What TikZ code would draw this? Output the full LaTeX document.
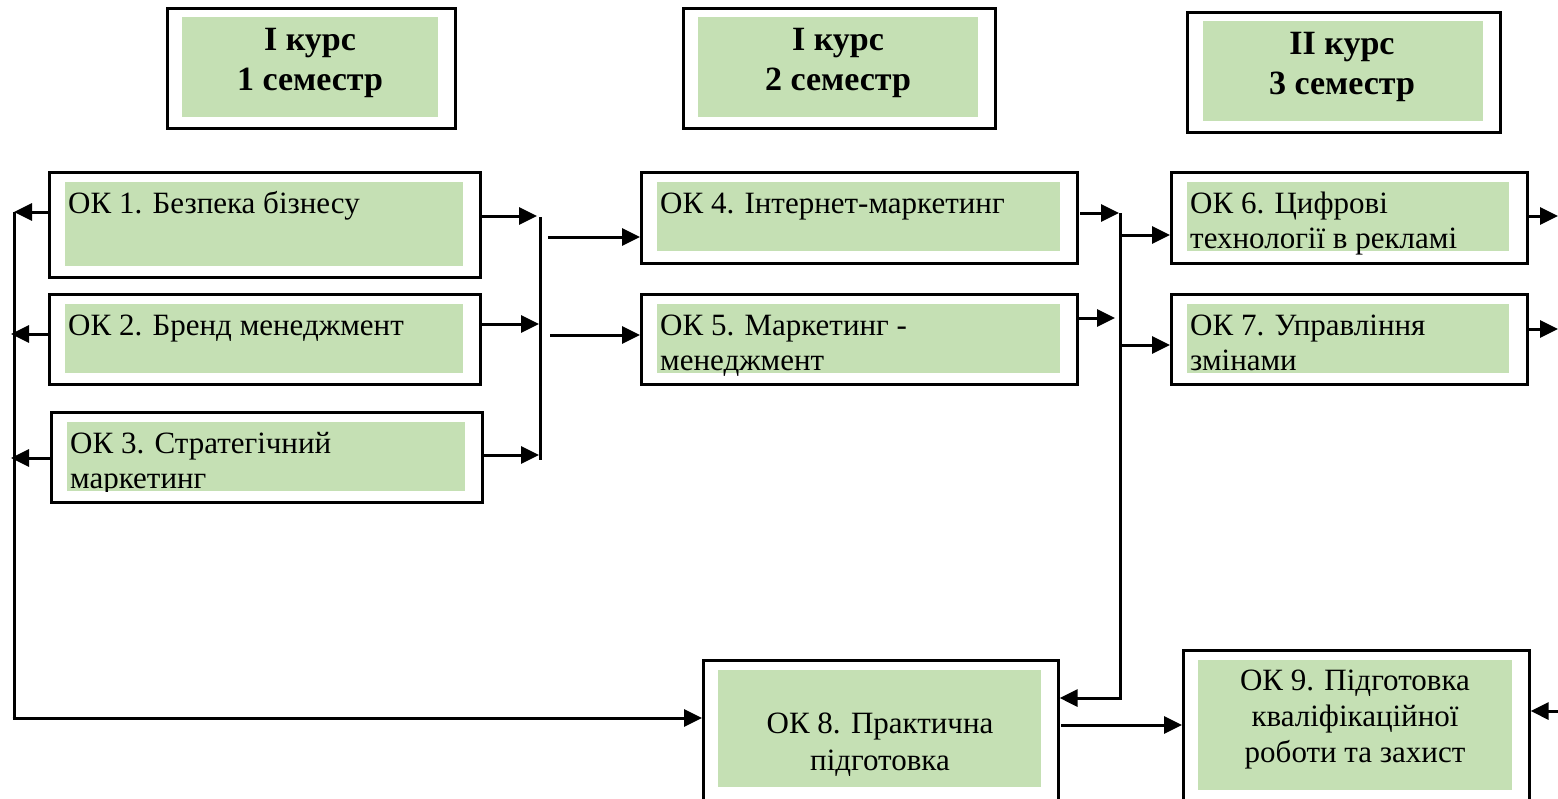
\documentclass[tikz,border=0pt]{standalone}
\usepackage{fontspec}
\setmainfont{Liberation Serif}
\usetikzlibrary{arrows.meta,calc}
\definecolor{cellgreen}{RGB}{197,224,180}
\tikzset{
  outerbox/.style={draw=black, line width=2.6pt, fill=white, inner sep=0pt, anchor=north west},
  greenbox/.style={fill=cellgreen},
  txt/.style={inner sep=0pt, anchor=base west, align=left, font=\fontsize{31}{35}\selectfont},
  ctxt/.style={inner sep=0pt, anchor=base, align=center, font=\fontsize{31}{37}\selectfont},
  htxt/.style={inner sep=0pt, anchor=base, align=center, font=\fontsize{34}{40}\selectfont\bfseries},
  arr/.style={line width=3pt, -{Triangle[length=18pt,width=17pt]}},
  ln/.style={line width=3pt}
}
\begin{document}
\begin{tikzpicture}[x=1pt,y=-1pt]
\useasboundingbox (0,0) rectangle (1558,798);

% headers
\node[outerbox, minimum width=288, minimum height=120] (h1) at (166,7) {};
\fill[greenbox] (182,17) rectangle (438,117);
\node[htxt] (h1t) at (310,90) {I курс\\1 семестр};

\node[outerbox, minimum width=312, minimum height=120] (h2) at (682,7) {};
\fill[greenbox] (698,17) rectangle (978,117);
\node[htxt] (h2t) at (838,90) {I курс\\2 семестр};

\node[outerbox, minimum width=313, minimum height=120] (h3) at (1186,11) {};
\fill[greenbox] (1203,21) rectangle (1483,121);
\node[htxt] (h3t) at (1342,94) {II курс\\3 семестр};

% course boxes
\node[outerbox, minimum width=431, minimum height=105] (ok1) at (48,171) {};
\fill[greenbox] (65,182) rectangle (463,266);
\node[txt] (ok1t) at (68,213) {ОК 1. Безпека бізнесу};

\node[outerbox, minimum width=431, minimum height=90] (ok2) at (48,293) {};
\fill[greenbox] (65,304) rectangle (463,373);
\node[txt] (ok2t) at (68,335) {ОК 2. Бренд менеджмент};

\node[outerbox, minimum width=431, minimum height=90] (ok3) at (50,411) {};
\fill[greenbox] (67,422) rectangle (465,491);
\begin{scope}
\clip (67,422) rectangle (465,491);
\node[txt] (ok3t) at (70,488) {ОК 3. Стратегічний\\маркетинг};
\end{scope}

\node[outerbox, minimum width=436, minimum height=91] (ok4) at (640,171) {};
\fill[greenbox] (657,182) rectangle (1060,251);
\node[txt] (ok4t) at (660,213) {ОК 4. Інтернет-маркетинг};

\node[outerbox, minimum width=436, minimum height=90] (ok5) at (640,293) {};
\fill[greenbox] (657,304) rectangle (1060,373);
\node[txt] (ok5t) at (660,370) {ОК 5. Маркетинг -\\менеджмент};

\node[outerbox, minimum width=356, minimum height=91] (ok6) at (1170,171) {};
\fill[greenbox] (1187,182) rectangle (1509,251);
\node[txt] (ok6t) at (1190,248) {ОК 6. Цифрові\\технології в рекламі};

\node[outerbox, minimum width=356, minimum height=90] (ok7) at (1170,293) {};
\fill[greenbox] (1187,304) rectangle (1509,373);
\node[txt] (ok7t) at (1190,370) {ОК 7. Управління\\змінами};

\node[outerbox, minimum width=355, minimum height=140] (ok8) at (702,659) {};
\fill[greenbox] (718,670) rectangle (1041,787);
\node[ctxt] (ok8t) at (880,770) {ОК 8. Практична\\підготовка};

\node[outerbox, minimum width=346, minimum height=150] (ok9) at (1182,649) {};
\fill[greenbox] (1198,660) rectangle (1512,790);
\node[ctxt, font=\fontsize{31}{36}\selectfont] (ok9t) at (1355,762) {ОК 9. Підготовка\\кваліфікаційної\\роботи та захист};

% coordinates for buses and free ends
\coordinate (busL) at (14,212);
\coordinate (busM) at (540,217);
\coordinate (busR) at (1120,213);
\coordinate (edgeR) at (1558,0);

% left bus
\draw[arr] (ok1.west |- 0,212) -- (busL);
\draw[arr] (ok2.west |- 0,334) -- (11,334);
\draw[arr] (ok3.west |- 0,458) -- (11,458);
\draw[ln] (busL) -- (14,719.5);
\draw[arr] (12.5,718) -- (ok8.west |- 0,718);

% middle bus
\draw[arr] (ok1.east |- 0,216) -- (537,216);
\draw[arr] (ok2.east |- 0,324) -- (539,324);
\draw[arr] (ok3.east |- 0,455) -- (539,455);
\draw[ln] (busM) -- (540,460);
\draw[arr] (548,237) -- (ok4.west |- 0,237);
\draw[arr] (550,335) -- (ok5.west |- 0,335);

% right bus
\draw[arr] (1080,213) -- (1119,213);
\draw[arr] (ok5.east |- 0,318) -- (1115,318);
\draw[ln] (busR) -- (1120,699.5);
\draw[arr] (1121.5,698) -- (ok8.east |- 0,698);
\draw[arr] (1120,235) -- (ok6.west |- 0,235);
\draw[arr] (1120,345) -- (ok7.west |- 0,345);

% right edge
\draw[arr] (ok6.east |- 0,216) -- (edgeR |- 0,216);
\draw[arr] (ok7.east |- 0,329) -- (edgeR |- 0,329);
\draw[arr] (edgeR |- 0,711) -- (ok9.east |- 0,711);

% OK8 -> OK9
\draw[arr] (1061,725) -- (ok9.west |- 0,725);
\end{tikzpicture}
\end{document}
